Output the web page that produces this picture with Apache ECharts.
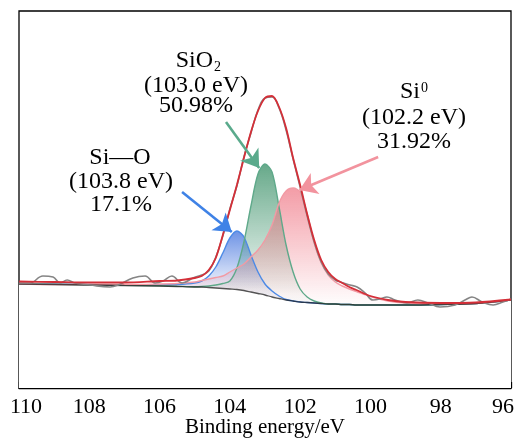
<!DOCTYPE html>
<html><head><meta charset="utf-8">
<script src="https://cdn.jsdelivr.net/npm/echarts@6/dist/echarts.min.js"></script>
<style>html,body{margin:0;padding:0;background:#fff}#c{width:521px;height:445px}</style>
</head><body><div id="c"></div>
<script>
// Binding energy grid (eV) shared by fitted curves
const energy = [110,109,108,107,106,105.5,105,104.8,104.6,104.4,104.2,104.0,103.8,103.6,103.4,103.2,103.0,102.8,102.6,102.4,102.2,102.0,101.8,101.6,101.4,101.2,101.0,100.8,100.6,100.4,100,99.5,99,98,97,96];
const background = [104,103.5,103,102.5,102,101.5,101,101,100.5,100,99.5,99,98.5,97.5,96,94.5,93,91,89.5,88,87,86,85.5,85,84.5,84,84,83.5,83.5,83,83,83,83,83.5,84.5,88];
const envelope = [106.5,106,105.5,105.5,107,107.5,110,112,118,130,153,178,203,230,256,277,290,292,281,260,230,203,174,148,128,116,109,105,101,98,92,88,86,85,85.5,88.5];
const siO = [104.5,104,103.5,103,103,103.5,105,107,112,121,135,150,157,151,133,116,104,97,92,88.5,87,86,85.5,85,84.5,84,84,83.5,83.5,83,83,83,83,83.5,84.5,88];
const siO2 = [104.3,103.8,103.3,102.8,102.3,101.8,101.3,101.5,102,103,104.5,107,120,146,182,214,224,216,181,143,116,99,91,87,85,84,84,83.5,83.5,83,83,83,83,83.5,84.5,88];
const si0 = [104,103.5,103.5,103.5,104,104.5,106,107.5,109,110.5,112,116,120,124,131,138,148,163,185,197,200,196,174,145,125,113,106,102,99,96.5,91.5,87,85,84,84.5,88];
// Raw spectrum
const rawEnergy = [110,109.69,109.32,109.03,108.83,108.63,108.41,107.98,107.41,107.18,106.76,106.41,106.13,105.9,105.65,105.36,105.05,104.8,104.6,104.4,104.2,104.0,103.8,103.6,103.4,103.2,103.0,102.8,102.6,102.4,102.2,102.0,101.8,101.6,101.4,101.2,101.0,100.86,100.58,100.38,100.15,99.93,99.73,99.53,99.3,98.96,98.65,98.36,98.02,97.59,97.31,97.11,96.82,96.51,96.23,96.0];
const rawCounts = [105,105,112,111,105,108,105,103,101,103,110,112,105,107,112,105,110,113,117,131,152,179,202,231,255,278,290,291,280,258,229,201,172,146,126,114,108,106,103,101,95,88,89,91,88,85,88,85,81,83,88,91,86,83,86,89];
const xTicks = [110,108,106,104,102,100,98,96];
// Annotation arrows: [startE, startI, endE, endI]
const arrowGreen = [104.11,266,103.165,220];
const arrowPink = [99.78,231,102.02,198];
const arrowBlue = [105.36,196,103.944,156];

const chart = echarts.init(document.getElementById('c'));
const pairs = (xs, ys) => xs.map((x,i)=>[x, ys[i]]);
const grad = (r,g,b,a0,off,a1) => new echarts.graphic.LinearGradient(0,0,0,1,[
  {offset:0,color:`rgba(${r},${g},${b},${a0})`},
  {offset:off,color:`rgba(${r},${g},${b},${a1})`},
  {offset:1,color:`rgba(${r},${g},${b},${a1})`}]);
const SM = 0.3;
function comp(ys, line, fill){
  return {type:'line', data:pairs(energy, ys), symbol:'none', smooth:SM,
    lineStyle:{color:line, width:1.4}, areaStyle:{color:fill, opacity:1, origin:'start'}};
}
const serif = '"Liberation Serif","Times New Roman",serif';
const txt = (text, x, y, size, align) => ({type:'text', x, y, style:{text, fontSize:size, fontFamily:serif, fill:'#000', align:align||'center', verticalAlign:'middle'}});
const arrowLine = (a, color) => [{coord:[a[0],a[1]], lineStyle:{color, width:2.6, type:'solid'}, itemStyle:{color}}, {coord:[a[2],a[3]]}];
const lblFont = {color:'#000', fontSize:22, fontFamily:serif};

chart.setOption({
  animation:false,
  grid:{left:19, right:10, top:11, bottom:57, show:true, borderColor:'#000', borderWidth:1.3,
    backgroundColor:'transparent', containLabel:false, outerBoundsMode:'none'},
  xAxis:{type:'value', min:96, max:110, interval:2, inverse:true,
    axisLine:{lineStyle:{color:'#000', width:1.3}},
    axisTick:{inside:true, length:6, lineStyle:{color:'#000', width:1.3}},
    axisLabel:{color:'#000', fontSize:22, fontFamily:serif, margin:8, customValues:xTicks,
      hideOverlap:false,
      formatter:v => v===110 ? '{l|'+v+'}' : (v===96 ? '{r|'+v+'}' : '{n|'+v+'}'),
      rich:{n:lblFont, l:Object.assign({padding:[0,0,0,14]}, lblFont), r:Object.assign({padding:[0,16,0,0]}, lblFont)}},
    splitLine:{show:false},
    name:'Binding energy/eV', nameLocation:'middle', nameGap:29, nameMoveOverlap:false,
    nameTextStyle:{color:'#000', fontSize:21, fontFamily:serif}},
  yAxis:{type:'value', min:0, max:377, show:false, splitLine:{show:false}},
  series:[
    comp(siO, '#4d8ae6', grad(60,110,220,0.75,0.37,0.06)),
    comp(siO2, '#5fa98a', grad(60,145,105,0.78,0.585,0.03)),
    comp(si0, '#f29aa4', grad(238,110,125,0.68,0.565,0.03)),
    {type:'line', data:pairs(energy, background), symbol:'none', smooth:SM, lineStyle:{opacity:0},
      areaStyle:{color:'#fff', opacity:1, origin:'start'}, silent:true},
    {type:'line', data:pairs(energy, background), symbol:'none', smooth:SM, lineStyle:{color:'rgba(30,30,30,0.75)', width:1.3}},
    {type:'line', data:pairs(rawEnergy, rawCounts), symbol:'none', smooth:0.4, lineStyle:{color:'#858585', width:1.6}},
    {type:'line', data:pairs(energy, envelope), symbol:'none', smooth:SM, lineStyle:{color:'#d42f38', width:1.8},
      markLine:{silent:true, animation:false, symbol:['none','arrow'], symbolSize:17, label:{show:false},
        data:[arrowLine(arrowGreen,'#5aaa8c'), arrowLine(arrowPink,'#f2939e'), arrowLine(arrowBlue,'#3f82e6')]}}
  ],
  graphic:[
    txt('SiO', 213, 61, 24, 'right'), txt('2', 214, 67, 14, 'left'),
    txt('(103.0 eV)', 196, 86, 24), txt('50.98%', 196, 105.5, 24),
    txt('Si', 420, 92, 24, 'right'), txt('0', 421, 88, 14, 'left'),
    txt('(102.2 eV)', 414, 118, 24), txt('31.92%', 414, 141.5, 24),
    txt('Si—O', 120, 158, 24), txt('(103.8 eV)', 121, 182, 24), txt('17.1%', 121, 205, 24)
  ]
});
</script></body></html>
